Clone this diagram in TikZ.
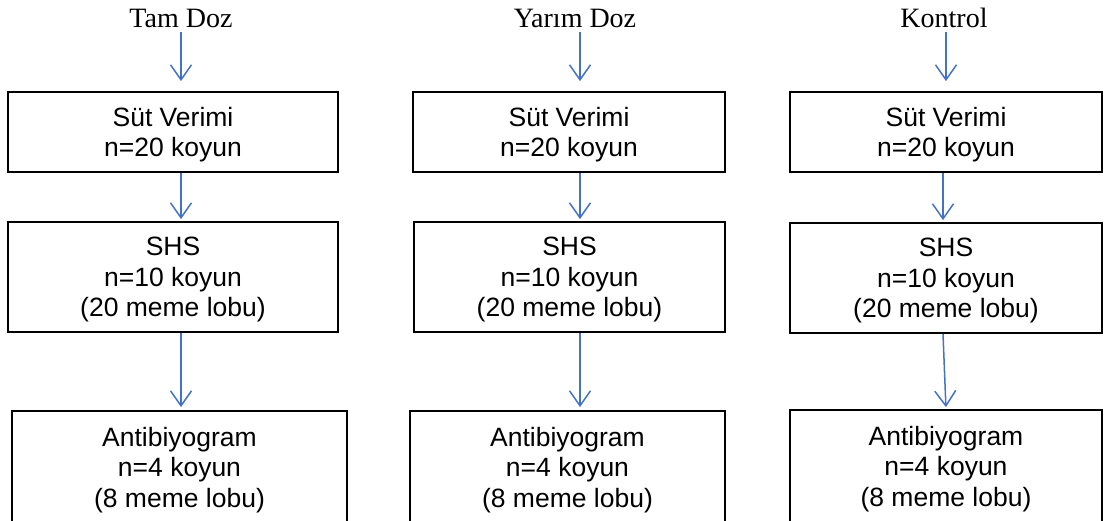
\documentclass[tikz,border=0pt]{standalone}
\usepackage{fontspec}
\setmainfont{Liberation Serif}
\setsansfont{Liberation Sans}
\usetikzlibrary{arrows.meta}
\definecolor{flowblue}{HTML}{4472C4}
\begin{document}
\begin{tikzpicture}[x=1pt,y=-1pt,
  grouptitle/.style={anchor=base,inner sep=0pt,font=\rmfamily\fontsize{28}{32}\selectfont},
  stagebox/.style={draw=black,line width=1.8pt,rectangle,inner sep=0pt,align=center,text depth=0pt,
    font=\sffamily\fontsize{26.5}{30.5}\selectfont},
  flowarrow/.style={draw=flowblue,line width=1.5pt,-{Straight Barb[length=15pt,width=21pt,line width=1.5pt]}}]
\useasboundingbox (0,0) rectangle (1106,520);

% group titles
\node[grouptitle] (t1) at (181,27) {Tam Doz};
\node[grouptitle] (t2) at (575,27) {Yarım Doz};
\node[grouptitle] (t3) at (944,27) {Kontrol};

% arrow columns
\coordinate (ax1) at (181,0);
\coordinate (ax2) at (580,0);
\coordinate (ax3) at (946,0);
\coordinate (ax3b) at (943,0);

% Tam Doz column
\node[stagebox,minimum width=330,minimum height=80] (s1) at (173,132) {Süt Verimi\\n=20 koyun};
\node[stagebox,minimum width=330,minimum height=110] (h1) at (173,277) {SHS\\n=10 koyun\\(20 meme lobu)};
\node[stagebox,minimum width=335,minimum height=112] (a1) at (179.5,467) {Antibiyogram\\n=4 koyun\\(8 meme lobu)};

% Yarım Doz column
\node[stagebox,minimum width=312,minimum height=80] (s2) at (569,132) {Süt Verimi\\n=20 koyun};
\node[stagebox,minimum width=311,minimum height=110] (h2) at (569.5,277) {SHS\\n=10 koyun\\(20 meme lobu)};
\node[stagebox,minimum width=315,minimum height=112] (a2) at (567.5,467) {Antibiyogram\\n=4 koyun\\(8 meme lobu)};

% Kontrol column
\node[stagebox,minimum width=312,minimum height=80] (s3) at (946,132) {Süt Verimi\\n=20 koyun};
\node[stagebox,minimum width=312,minimum height=110] (h3) at (946,278) {SHS\\n=10 koyun\\(20 meme lobu)};
\node[stagebox,minimum width=312,minimum height=112] (a3) at (946,466) {Antibiyogram\\n=4 koyun\\(8 meme lobu)};

% connectors
\foreach \c in {1,2,3}{
  \draw[flowarrow,shorten >=10pt] ([yshift=-5pt]t\c.base -| ax\c) -- (s\c.north -| ax\c);
}
\draw[flowarrow,shorten >=2pt] (s1.south -| ax1) -- (h1.north -| ax1);
\draw[flowarrow,shorten >=3pt] (h1.south -| ax1) -- (a1.north -| ax1);
\draw[flowarrow,shorten >=2pt] (s2.south -| ax2) -- (h2.north -| ax2);
\draw[flowarrow,shorten >=3pt] (h2.south -| ax2) -- (a2.north -| ax2);
\draw[flowarrow,shorten >=2pt] (s3.south -| ax3b) -- (h3.north -| ax3b);
\draw[flowarrow,shorten >=2pt] (h3.south -| ax3b) -- (a3.north -| ax3);
\end{tikzpicture}
\end{document}
